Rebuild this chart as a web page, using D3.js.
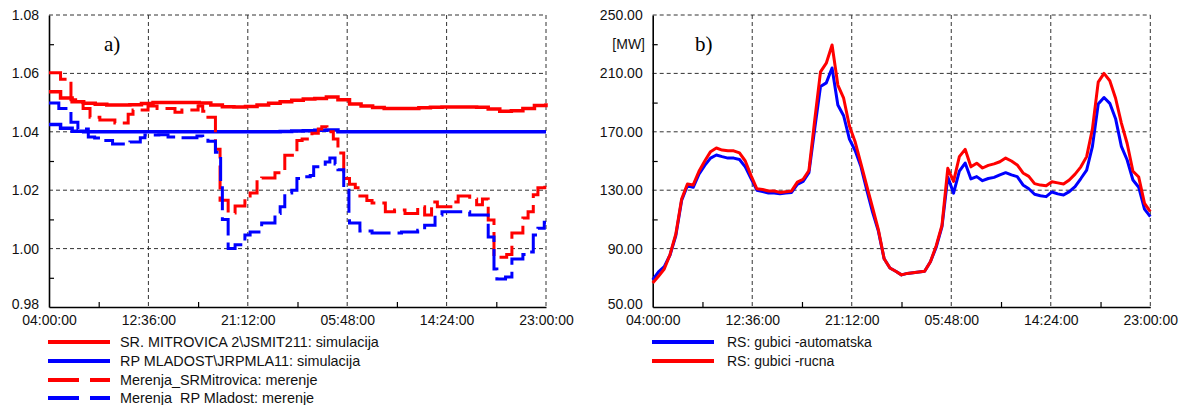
<!DOCTYPE html>
<html>
<head>
<meta charset="utf-8">
<script src="https://cdn.jsdelivr.net/npm/d3@7"></script>
<style>
  body { margin: 0; background: #fff; }
  svg { font-family: "Liberation Sans", Arial, sans-serif; }
</style>
</head>
<body>
<svg id="chart" width="1184" height="405"></svg>
<script>
// time axis: hours from 04:00:00 (day 1) to 23:00:00 (day 2)
const xTickLabels = ["04:00:00", "12:36:00", "21:12:00", "05:48:00", "14:24:00", "23:00:00"];

// --- panel a) voltages [p.u.] ---
const simHours = d3.range(0, 44, 1);
const simMitrovica = [1.0537, 1.0516, 1.0503, 1.0498, 1.0494, 1.0492, 1.0492, 1.0493, 1.0497, 1.0500,
  1.0500, 1.0500, 1.0500, 1.0499, 1.0492, 1.0486, 1.0485, 1.0487, 1.0492, 1.0498,
  1.0503, 1.0508, 1.0512, 1.0514, 1.0519, 1.0510, 1.0495, 1.0488, 1.0483, 1.0480,
  1.0480, 1.0480, 1.0482, 1.0484, 1.0485, 1.0485, 1.0485, 1.0484, 1.0478, 1.0470,
  1.0472, 1.0480, 1.0490, 1.0498];
const simMladost = [1.0425, 1.0412, 1.0402, 1.0400, 1.0400, 1.0400, 1.0400, 1.0400, 1.0400, 1.0400,
  1.0400, 1.0400, 1.0400, 1.0400, 1.0400, 1.0400, 1.0400, 1.0400, 1.0400, 1.0400,
  1.0401, 1.0403, 1.0404, 1.0405, 1.0406, 1.0400, 1.0400, 1.0400, 1.0400, 1.0400,
  1.0400, 1.0400, 1.0400, 1.0400, 1.0400, 1.0400, 1.0400, 1.0400, 1.0400, 1.0400,
  1.0400, 1.0400, 1.0400, 1.0400];

// measurements: change times [h] and values
const measMitrovicaT = [0, 1.0, 1.9, 2.5, 2.95, 3.55, 4.4, 5.7, 6.85, 7.27, 8.57, 9.35, 10.3, 10.9, 11.5,
  12.9, 13.3, 13.75, 14.4, 14.8, 15.5, 16.1, 16.95, 17.4, 18.0, 18.4, 19.55, 20.4, 21.45, 21.9,
  22.75, 23.3, 23.6, 24.05, 24.6, 25.0, 25.5, 26.0, 26.5, 26.9, 27.5, 27.95, 29.1, 29.9, 30.8,
  31.9, 32.5, 33.1, 33.6, 34.9, 35.4, 36.4, 37.0, 37.5, 38.0, 38.5, 39.6, 40.05, 41.0, 41.45,
  41.9, 42.3, 42.9, 43];
const measMitrovicaV = [1.0602, 1.0580, 1.0510, 1.0500, 1.0480, 1.0450, 1.0440, 1.0430, 1.0460, 1.0475,
  1.0488, 1.0480, 1.0480, 1.0467, 1.0475, 1.0488, 1.0470, 1.0450, 1.0340, 1.0166,
  1.0122, 1.0146, 1.0180, 1.0190, 1.0235, 1.0242, 1.0260, 1.0320, 1.0370, 1.0375,
  1.0395, 1.0410, 1.0417, 1.0400, 1.0375, 1.0327, 1.0240, 1.0220, 1.0208, 1.0180,
  1.0165, 1.0156, 1.0126, 1.0132, 1.0120, 1.0143, 1.0115, 1.0160, 1.0143, 1.0160,
  1.0180, 1.0170, 1.0150, 1.0170, 1.0098, 0.9970, 0.9980, 1.0053, 1.0105, 1.0126,
  1.0184, 1.0208, 1.0235, 1.0235];
const measMladostT = [0, 0.85, 1.9, 2.5, 3.4, 3.95, 4.5, 5.5, 7.0, 7.9, 8.3, 9.5, 10.3, 11.0, 12.8,
  13.3, 13.75, 14.4, 14.85, 15.0, 15.5, 16.1, 16.95, 17.4, 18.4, 19.55, 20.0, 20.4, 21.0, 21.45,
  21.9, 22.6, 22.9, 23.9, 24.3, 24.75, 25.0, 25.5, 25.95, 26.0, 26.9, 27.95, 30.5, 31.9, 32.5,
  33.4, 34.0, 36.4, 38.0, 38.5, 38.75, 39.5, 40.05, 41.0, 41.45, 41.9, 42.3, 42.85, 43];
const measMladostV = [1.0499, 1.0480, 1.0433, 1.0410, 1.0382, 1.0379, 1.0370, 1.0358, 1.0365, 1.0380,
  1.0389, 1.0390, 1.0382, 1.0380, 1.0386, 1.0380, 1.0368, 1.0330, 1.0220, 1.0100,
  1.0000, 1.0013, 1.0047, 1.0057, 1.0088, 1.0120, 1.0143, 1.0190, 1.0200, 1.0240,
  1.0246, 1.0250, 1.0280, 1.0297, 1.0310, 1.0290, 1.0270, 1.0200, 1.0120, 1.0088,
  1.0060, 1.0053, 1.0057, 1.0063, 1.0080, 1.0115, 1.0126, 1.0115, 1.0040, 0.9930,
  0.9896, 0.9903, 0.9964, 0.9980, 0.9988, 1.0047, 1.0070, 1.0090, 1.0090];
const voltTicks = [0.98, 1.00, 1.02, 1.04, 1.06, 1.08];
const voltMinor = [0.99, 1.01, 1.03, 1.05, 1.07];

// --- panel b) losses [MW], half-hour steps ---
const lossHours = d3.range(0, 43.25, 0.5);
const lossAuto = [68.5, 74, 77.6, 85.6, 99, 123, 133, 132, 141, 147,
  152, 154.1, 153, 152, 152, 151, 146, 138, 130, 129,
  128, 128, 127.5, 128, 128.5, 134, 136, 142, 172, 201,
  203.5, 213.7, 188.4, 181, 165, 157, 146, 130, 115, 102,
  83, 76.7, 74.5, 72, 73, 73.5, 74, 74.5, 81, 91,
  105, 139, 128, 143, 148.6, 137.7, 139.3, 136.5, 138, 138.8,
  140.5, 142, 140.5, 139.3, 133.6, 131, 127.2, 126.2, 125.6, 128.8,
  127.5, 126.7, 129, 132.5, 138, 143.8, 160, 189, 193.5, 189.5,
  179, 160, 150.7, 137, 132, 117, 111.9];
const lossManual = [66.4, 71, 76, 86, 100, 124, 134.2, 133.6, 143, 150,
  156.4, 158.9, 157.5, 157, 157, 155.5, 150, 140, 131, 130.5,
  129.5, 129.5, 128.5, 129, 129.5, 135.5, 137.5, 143.5, 178, 211,
  217, 229.5, 202, 193, 174, 163, 148, 133, 118, 103,
  83, 76.7, 74.5, 72, 73, 73.5, 74, 74.5, 81, 92,
  106, 145, 136, 153, 158, 146, 148.5, 145.2, 147, 148,
  149.5, 152, 150, 147.3, 141.8, 139.5, 134.5, 133.5, 133, 135.8,
  135, 134.2, 137, 141, 146, 153, 172, 204, 210, 205,
  193, 176, 162, 143, 139, 121, 115.3];
const lossTicks = [50, 90, 130, 170, 210, 250];
const lossMinor = [70, 110, 150, 190, 230];

const svg = d3.select("#chart");
const plotTop = 15, plotBottom = 307;
const hourTicks = [0, 8.6, 17.2, 25.8, 34.4, 43];
const hourMinor = [4.3, 12.9, 21.5, 30.1, 38.7];

function drawFrame(g, x, y, yTicks, yMinor, yFmt) {
  const [x0, x1] = x.range();
  // grid
  g.append("g").selectAll("line").data(yTicks.slice(1)).join("line")
    .attr("x1", x0).attr("x2", x1)
    .attr("y1", d => y(d)).attr("y2", d => y(d))
    .attr("stroke", "#333").attr("stroke-width", 1).attr("stroke-dasharray", "4,3");
  g.append("g").selectAll("line").data(hourTicks.slice(1)).join("line")
    .attr("x1", d => x(d)).attr("x2", d => x(d))
    .attr("y1", plotTop).attr("y2", plotBottom)
    .attr("stroke", "#333").attr("stroke-width", 1).attr("stroke-dasharray", "4,3");

  // axes
  const ay = g.append("g").attr("transform", `translate(${x0},0)`)
    .call(d3.axisLeft(y).tickValues(yTicks).tickFormat(yFmt).tickSize(0).tickSizeOuter(0).tickPadding(10));
  const ayMinor = g.append("g").attr("transform", `translate(${x0},0)`)
    .call(d3.axisRight(y).tickValues(yMinor).tickFormat("").tickSize(5).tickSizeOuter(0));
  ayMinor.select(".domain").remove();
  const ax = g.append("g").attr("transform", `translate(0,${plotBottom})`)
    .call(d3.axisBottom(x).tickValues(hourTicks).tickFormat((d, i) => xTickLabels[i])
      .tickSize(0).tickSizeOuter(0).tickPadding(8));
  const axMinor = g.append("g").attr("transform", `translate(0,${plotBottom})`)
    .call(d3.axisTop(x).tickValues(hourMinor).tickFormat("").tickSize(5).tickSizeOuter(0));
  axMinor.select(".domain").remove();
  [ay, ax].forEach(a => {
    a.select(".domain").attr("stroke", "#000").attr("stroke-width", 1.6);
    a.selectAll("text").attr("font-size", 14).attr("fill", "#111")
      .attr("font-family", "'Liberation Sans', Arial, sans-serif");
  });
  // lowest y label sits a touch higher so it clears the first time label
  ay.selectAll(".tick text").filter(d => d === yTicks[0]).attr("dy", "0.1em");
  [ayMinor, axMinor].forEach(a => a.selectAll("line").attr("stroke", "#000").attr("stroke-width", 1.2));
}

// ---------- panel a ----------
const xa = d3.scaleLinear().domain([0, 43]).range([49, 546]);
const ya = d3.scaleLinear().domain([0.98, 1.08]).range([plotBottom, plotTop]);
const ga = svg.append("g");
drawFrame(ga, xa, ya, voltTicks, voltMinor, d3.format(".2f"));

const stepLine = d3.line().x(d => xa(d[0])).y(d => ya(d[1])).curve(d3.curveStepAfter);
const seriesA = [
  { pts: simHours.map((h, i) => [h, simMitrovica[i]]), color: "#ff0000", dash: null, w: 3.5 },
  { pts: simHours.map((h, i) => [h, simMladost[i]]), color: "#0000ff", dash: null, w: 3.5 },
  { pts: measMitrovicaT.map((h, i) => [h, measMitrovicaV[i]]), color: "#ff0000", dash: "24,7", w: 3 },
  { pts: measMladostT.map((h, i) => [h, measMladostV[i]]), color: "#0000ff", dash: "24,7", w: 3 }
];
ga.append("g").selectAll("path").data(seriesA).join("path")
  .attr("d", d => stepLine(d.pts))
  .attr("fill", "none")
  .attr("stroke", d => d.color)
  .attr("stroke-width", d => d.w)
  .attr("stroke-dasharray", d => d.dash);

ga.append("text").attr("x", 104).attr("y", 51)
  .attr("font-family", "'Liberation Serif', 'Times New Roman', serif").attr("font-size", 21)
  .text("a)");

const legendA = [
  { label: "SR. MITROVICA 2\\JSMIT211: simulacija", color: "#ff0000", dash: null, y: 342 },
  { label: "RP MLADOST\\JRPMLA11: simulacija", color: "#0000ff", dash: null, y: 361 },
  { label: "Merenja_SRMitrovica: merenje", color: "#ff0000", dash: "31,11", y: 380 },
  { label: "Merenja_RP Mladost: merenje", color: "#0000ff", dash: "31,11", y: 398 }
];
const la = ga.append("g").selectAll("g").data(legendA).join("g");
la.append("line").attr("x1", 48).attr("x2", 110).attr("y1", d => d.y).attr("y2", d => d.y)
  .attr("stroke", d => d.color).attr("stroke-width", 4).attr("stroke-dasharray", d => d.dash);
la.append("text").attr("x", 120).attr("y", d => d.y + 4.5).attr("font-size", 14.4).attr("fill", "#111")
  .text(d => d.label);

// ---------- panel b ----------
const xb = d3.scaleLinear().domain([0, 43]).range([652.7, 1150.3]);
const yb = d3.scaleLinear().domain([50, 250]).range([plotBottom, plotTop]);
const gb = svg.append("g");
drawFrame(gb, xb, yb, lossTicks, lossMinor, d3.format(".2f"));

const lossLine = d3.line().x(d => xb(d[0])).y(d => yb(d[1]));
const seriesB = [
  { pts: lossHours.map((h, i) => [h, lossAuto[i]]), color: "#0000ff" },
  { pts: lossHours.map((h, i) => [h, lossManual[i]]), color: "#ff0000" }
];
gb.append("g").selectAll("path").data(seriesB).join("path")
  .attr("d", d => lossLine(d.pts))
  .attr("fill", "none")
  .attr("stroke", d => d.color)
  .attr("stroke-width", 3)
  .attr("stroke-linejoin", "round");

gb.append("text").attr("x", 645).attr("y", 49).attr("text-anchor", "end")
  .attr("font-size", 14).attr("fill", "#111").text("[MW]");
gb.append("text").attr("x", 695).attr("y", 51)
  .attr("font-family", "'Liberation Serif', 'Times New Roman', serif").attr("font-size", 21)
  .text("b)");

const legendB = [
  { label: "RS: gubici -automatska", color: "#0000ff", y: 342 },
  { label: "RS: gubici -rucna", color: "#ff0000", y: 361 }
];
const lb = gb.append("g").selectAll("g").data(legendB).join("g");
lb.append("line").attr("x1", 652).attr("x2", 714).attr("y1", d => d.y).attr("y2", d => d.y)
  .attr("stroke", d => d.color).attr("stroke-width", 4);
lb.append("text").attr("x", 727).attr("y", d => d.y + 5).attr("font-size", 14).attr("fill", "#111")
  .text(d => d.label);
</script>
</body>
</html>
